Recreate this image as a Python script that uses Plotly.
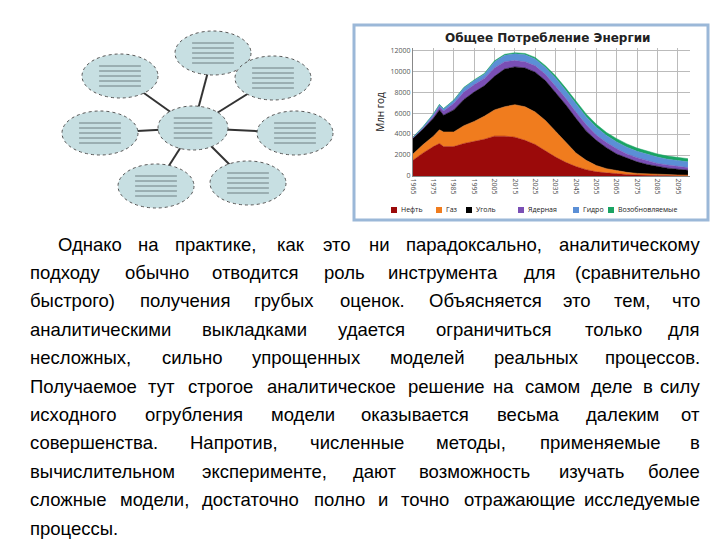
import plotly.graph_objects as go

W, H = 720, 540
def px(x): return x / W
def py(y): return 1 - y / H

years = [1965,1970,1975,1978,1980,1985,1990,1995,2000,2005,2010,2015,2020,2025,2030,2035,2040,2045,2050,2055,2060,2065,2070,2075,2080,2085,2090,2095,2100]
# cumulative tops of each stacked layer (Млн год)
oil_top   = [1500,2200,2800,3100,2800,2800,3100,3300,3500,3800,3800,3700,3400,3000,2400,1800,1300,900,600,400,300,200,150,100,70,50,30,20,10]
gas_top   = [2100,3000,3800,4400,4200,4200,4800,5200,5700,6300,6600,6800,6600,6100,5300,4300,3200,2200,1500,1000,700,500,350,250,200,150,120,100,80]
coal_top  = [3600,4500,5500,6300,5800,6300,7300,8000,8600,9500,10200,10400,10300,9900,9100,8000,6800,5500,4300,3400,2700,2100,1700,1350,1100,900,750,650,550]
nuc_top   = [3620,4550,5700,6600,6200,6900,8000,8700,9300,10300,10900,11000,10900,10500,9700,8600,7400,6100,4900,3900,3200,2600,2100,1750,1450,1200,1050,900,800]
hydro_top = [3700,4700,5900,6800,6400,7200,8400,9100,9700,10900,11500,11650,11550,11150,10350,9350,8150,6850,5650,4650,3850,3250,2750,2350,2050,1800,1600,1450,1350]
ren_top   = [3720,4720,5920,6830,6430,7240,8450,9160,9770,10980,11600,11750,11680,11300,10520,9550,8380,7100,5920,4930,4150,3560,3060,2660,2350,2100,1900,1750,1650]
series_names = ["Нефть","Газ","Уголь","Ядерная","Гидро","Возобновляемые"]
series_tops = [oil_top, gas_top, coal_top, nuc_top, hydro_top, ren_top]
colors = ["#9b0a0a","#f07c1e","#000000","#7a4fb5","#5b8fd6","#1aa463"]
xticks = list(range(1965, 2100, 10))
yticks = list(range(0, 12001, 2000))

fig = go.Figure()
for i, (n, t, c) in enumerate(zip(series_names, series_tops, colors)):
    fig.add_trace(go.Scatter(x=years, y=t, name=n, mode="lines", line=dict(width=0.5, color=c),
                             fill="tozeroy" if i == 0 else "tonexty", fillcolor=c))

fig.update_layout(
    width=W, height=H, margin=dict(l=0, r=0, t=0, b=0),
    paper_bgcolor="white", plot_bgcolor="white", showlegend=False,
    xaxis=dict(domain=[px(405), px(682)], range=[1965, 2101], tickvals=xticks, tickangle=90,
               tickfont=dict(size=7, color="#555"), showgrid=True, gridcolor="#bbb",
               showline=True, linecolor="#888", zeroline=False, automargin=False),
    yaxis=dict(domain=[py(168), py(40)], range=[0, 12200], tickvals=yticks,
               ticktext=[str(v) for v in yticks],
               tickfont=dict(size=7, color="#555"), showgrid=True, gridcolor="#bbb",
               showline=True, linecolor="#888", zeroline=False, automargin=False,
               title=dict(text="Млн год", font=dict(size=10, color="#222"), standoff=4)),
)
shapes = [dict(type="rect", xref="paper", yref="paper", x0=px(346), x1=px(700), y0=py(17), y1=py(212),
               line=dict(color="#9bb8d8", width=3), layer="below")]
annotations = [dict(text="<b>Общее Потребление Энергии</b>", x=px(540), y=py(30), xref="paper", yref="paper",
                    xanchor="center", yanchor="middle",
                    showarrow=False, font=dict(size=12, color="#222", family="DejaVu Sans"))]

# manual legend
leg_x = [383, 428, 458, 510, 565, 600]
for lx, n, c in zip(leg_x, series_names, colors):
    shapes.append(dict(type="rect", xref="paper", yref="paper", x0=px(lx), x1=px(lx + 6),
                       y0=py(205), y1=py(199), fillcolor=c, line=dict(width=0)))
    annotations.append(dict(text=n, x=px(lx + 8), y=py(202), xref="paper", yref="paper", showarrow=False,
                            xanchor="left", yanchor="middle", font=dict(size=7, color="#222")))

# diagram
center = (185, 120)
nodes = [(205, 45), (112, 68), (265, 70), (92, 125), (287, 125), (148, 178), (240, 175)]
for (x, y) in nodes:
    shapes.append(dict(type="line", xref="paper", yref="paper", x0=px(center[0]), y0=py(center[1]),
                       x1=px(x), y1=py(y), line=dict(color="#333", width=2), layer="below"))
for (x, y), (rx, ry) in [(center, (35, 22))] + [(n, (38, 22)) for n in nodes]:
    shapes.append(dict(type="circle", xref="paper", yref="paper", x0=px(x - rx), x1=px(x + rx),
                       y0=py(y + ry), y1=py(y - ry), fillcolor="#c7dfe2",
                       line=dict(color="#555", width=1, dash="dot"), layer="below"))
    for k in range(-2, 3):
        shapes.append(dict(type="line", xref="paper", yref="paper", x0=px(x - rx * 0.55), x1=px(x + rx * 0.55),
                           y0=py(y + k * 5), y1=py(y + k * 5), line=dict(color="#6f7f82", width=1), layer="below"))

# paragraph (justified by placing words individually)
lines = [
    "Однако на практике, как это ни парадоксально, аналитическому",
    "подходу обычно отводится роль инструмента для (сравнительно",
    "быстрого) получения грубых оценок. Объясняется это тем, что",
    "аналитическими выкладками удается ограничиться только для",
    "несложных, сильно упрощенных моделей реальных процессов.",
    "Получаемое тут строгое аналитическое решение на самом деле в силу",
    "исходного огрубления модели оказывается весьма далеким от",
    "совершенства. Напротив, численные методы, применяемые в",
    "вычислительном эксперименте, дают возможность изучать более",
    "сложные модели, достаточно полно и точно отражающие исследуемые",
    "процессы.",
]
FS = 18.5
def cw(ch):
    if ch in " .,()": return 0.28
    if ch in "шщжмюыШЩЖМЮЫ": return 0.72
    if ch.isupper(): return 0.66
    if ch in "гзстэкГ": return 0.5
    return 0.555
def wlen(w): return sum(cw(c) for c in w) * FS
for i, line in enumerate(lines):
    y = 236 + i * 28.4
    x0 = 48 if i == 0 else 20
    x1 = 694
    words = line.split(" ")
    if i == len(lines) - 1:
        annotations.append(dict(text=line, x=px(x0), y=py(y), xref="paper", yref="paper", showarrow=False,
                                xanchor="left", yanchor="middle",
                                font=dict(size=FS, family="Liberation Sans", color="#000")))
        continue
    total = sum(wlen(w) for w in words)
    gap = (x1 - x0 - total) / (len(words) - 1)
    x = x0
    for j, w in enumerate(words):
        last = j == len(words) - 1
        annotations.append(dict(text=w, x=px(x1 if last else x), y=py(y), xref="paper", yref="paper",
                                showarrow=False, xanchor="right" if last else "left", yanchor="middle",
                                font=dict(size=FS, family="Liberation Sans", color="#000")))
        x += wlen(w) + gap

fig.update_layout(shapes=shapes, annotations=annotations)
fig.write_html("out.html")
